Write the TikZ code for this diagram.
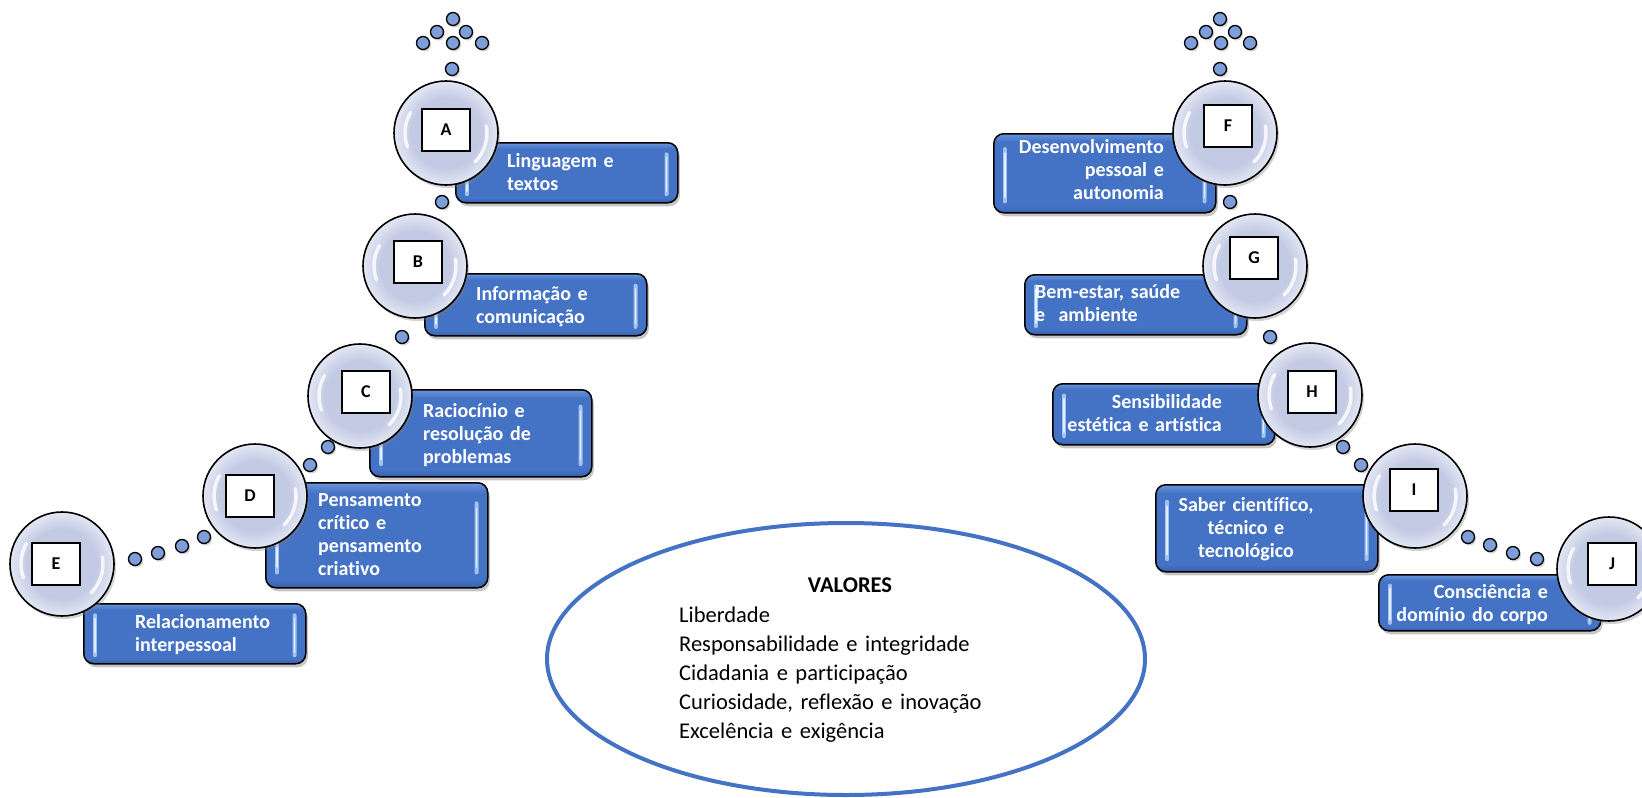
\documentclass[tikz,border=0pt]{standalone}
\usepackage{fontspec}
\setmainfont{Carlito}[Ligatures=NoCommon]
\usetikzlibrary{shapes.geometric,shadows,calc}
\definecolor{ringblue}{HTML}{4472C4}
\definecolor{pilltop}{HTML}{6A95DC}
\definecolor{pillmid}{HTML}{4472C4}
\definecolor{pillbot}{HTML}{3760AC}
\definecolor{bubin}{HTML}{C3CBE4}
\definecolor{bubout}{HTML}{E3E7F4}
\definecolor{beadfill}{HTML}{7D9ED8}
\definecolor{glossblue}{HTML}{9EC2F2}
\pgfdeclareradialshading{bubbleshade}{\pgfpointorigin}{color(0bp)=(bubin); color(17bp)=(bubin); color(25bp)=(bubout); color(50bp)=(bubout)}
\pgfdeclareverticalshading{pillshade}{100bp}{color(0bp)=(pillbot); color(25bp)=(pillbot); color(29bp)=(pillmid); color(70bp)=(pillmid); color(75bp)=(pilltop); color(100bp)=(pilltop)}
\begin{document}
\begin{tikzpicture}
  [x=1pt,y=1pt,
   pill/.style={draw=black,line width=1.5pt,rounded corners=10pt,shading=pillshade,
     anchor=north west,minimum width=222pt,drop shadow={shadow xshift=2pt,shadow yshift=-3.5pt,opacity=.45}},
   gloss/.style={glossblue,line width=4pt,line cap=round},
   glosscore/.style={white,opacity=.7,line width=1.3pt,line cap=round},
   words/.style={text=white,inner sep=0pt,text width=210pt,font=\fontsize{20}{23}\selectfont\bfseries},
   bubble/.style={circle,draw=black,line width=1.6pt,shading=bubbleshade,minimum size=104pt,inner sep=0pt,
     drop shadow={shadow xshift=2pt,shadow yshift=-3pt,opacity=.35}},
   shine/.style={white,opacity=.8,line width=3.5pt,line cap=round},
   tag/.style={draw=black,fill=white,line width=1.2pt,minimum width=48pt,minimum height=42pt,inner sep=0pt,
     font=\fontsize{18}{20}\selectfont\bfseries},
   bead/.style={circle,draw=black,line width=1.3pt,fill=beadfill,minimum size=13pt,inner sep=0pt,
     drop shadow={shadow xshift=1.5pt,shadow yshift=-2pt,opacity=.35}},
   valring/.style={ellipse,draw=ringblue,line width=4pt,minimum width=598pt,minimum height=272pt}]
  \useasboundingbox (0,0) rectangle (1642,-798);

  \node[pill,minimum height=60pt]  (bA) at (455,-142)  {};
  \node[pill,minimum height=62pt]  (bB) at (424,-273)  {};
  \node[pill,minimum height=87pt]  (bC) at (369,-389)  {};
  \node[pill,minimum height=105pt] (bD) at (265,-482)  {};
  \node[pill,minimum height=60pt]  (bE) at (83,-603)   {};
  \node[pill,minimum height=79pt]  (bF) at (993,-133)  {};
  \node[pill,minimum height=60pt]  (bG) at (1024,-274) {};
  \node[pill,minimum height=61pt]  (bH) at (1052,-383) {};
  \node[pill,minimum height=87pt]  (bI) at (1155,-484) {};
  \node[pill,minimum height=56pt]  (bJ) at (1378,-574) {};

  \foreach \b in {bA,bB,bC,bD,bE,bF,bG,bH,bI,bJ} {
    \draw[gloss] ($(\b.north west)!.2!(\b.south west)+(12,0)$) -- ($(\b.north west)!.85!(\b.south west)+(12,0)$);
    \draw[gloss] ($(\b.north east)!.2!(\b.south east)+(-12,0)$) -- ($(\b.north east)!.85!(\b.south east)+(-12,0)$);
    \draw[glosscore] ($(\b.north west)!.25!(\b.south west)+(12,0)$) -- ($(\b.north west)!.8!(\b.south west)+(12,0)$);
    \draw[glosscore] ($(\b.north east)!.25!(\b.south east)+(-12,0)$) -- ($(\b.north east)!.8!(\b.south east)+(-12,0)$);
  }

  \node[words,anchor=base west,align=left]  (xA) at (507,-167)  {Linguagem e\\textos};
  \node[words,anchor=base west,align=left]  (xB) at (476,-300)  {Informação e\\comunicação};
  \node[words,anchor=base west,align=left]  (xC) at (423,-417)  {Raciocínio e\\resolução de\\problemas};
  \node[words,anchor=base west,align=left]  (xD) at (318,-506)  {Pensamento\\crítico e\\pensamento\\criativo};
  \node[words,anchor=base west,align=left]  (xE) at (135,-628)  {Relacionamento\\interpessoal};
  \node[words,anchor=base east,align=right] (xF) at (1164,-153) {Desenvolvimento\\pessoal e\\autonomia};
  \node[words,anchor=base west,align=left]  (xG) at (1035,-298) {Bem-estar, saúde\\e\ \ ambiente};
  \node[words,anchor=base east,align=right] (xH) at (1222,-408) {Sensibilidade\\estética e artística};
  \node[words,anchor=base,align=center]     (xI) at (1246,-511) {Saber científico,\\técnico e\\tecnológico};
  \node[words,anchor=base east,align=right] (xJ) at (1548,-598) {Consciência e\\domínio do corpo};

  \node[bubble] (cA) at (446,-133)  {};
  \node[bubble] (cB) at (415,-266)  {};
  \node[bubble] (cC) at (360,-396)  {};
  \node[bubble] (cD) at (255,-496)  {};
  \node[bubble] (cE) at (62,-564)   {};
  \node[bubble] (cF) at (1225,-133) {};
  \node[bubble] (cG) at (1255,-266) {};
  \node[bubble] (cH) at (1310,-395) {};
  \node[bubble] (cI) at (1415,-496) {};
  \node[bubble] (cJ) at (1609,-569) {};

  \foreach \c in {cA,cB,cC,cD,cE,cF,cG,cH,cI,cJ} {
    \draw[shine] ($(\c.center)+(150:41)$) arc[start angle=150,end angle=200,radius=41];
    \draw[shine] ($(\c.center)+(-45:41)$) arc[start angle=-45,end angle=10,radius=41];
  }

  \node[tag] (tA) at (446,-130)  {A};
  \node[tag] (tB) at (418,-262)  {B};
  \node[tag] (tC) at (366,-392)  {C};
  \node[tag] (tD) at (250,-496)  {D};
  \node[tag] (tE) at (56,-564)   {E};
  \node[tag] (tF) at (1228,-126) {F};
  \node[tag] (tG) at (1254,-258) {G};
  \node[tag] (tH) at (1312,-392) {H};
  \node[tag] (tI) at (1414,-490) {I};
  \node[tag] (tJ) at (1612,-564) {J};

  \foreach \x/\y [count=\i] in {453/19,437/32,466/32,423/43,453/43,482/43,452/69,
      442/202,402/337,328/447,310/465,204/537,182/546,158/553,135/559,
      1220/19,1206/32,1235/32,1191/43,1221/43,1250/43,1220/69,
      1230/202,1270/337,1343/447,1361/465,1468/537,1490/545,1513/553,1537/559}
    \node[bead] (d\i) at (\x,-\y) {};

  \node[valring] (val) at (846,-659) {};
  \node[anchor=base,font=\fontsize{22.5}{29}\selectfont\bfseries] (vt) at (850,-592) {VALORES};
  \node[anchor=base west,inner sep=0pt,text width=350pt,align=left,font=\fontsize{22.5}{29}\selectfont] (vl) at (679,-622)
    {Liberdade\\Responsabilidade e integridade\\Cidadania e participação\\Curiosidade, reflexão e inovação\\Excelência e exigência};

\end{tikzpicture}
\end{document}
